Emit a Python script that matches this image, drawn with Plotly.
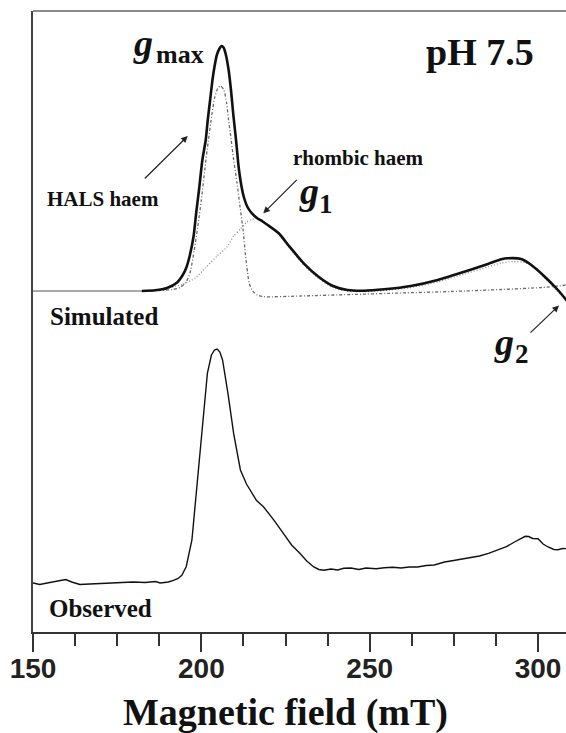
import plotly.graph_objects as go

# ---------------- data (field in mT, intensity in arbitrary units) ----------------
sim_field = [182.3, 186.3, 189.8, 192.8, 194.3, 195.5, 196.6, 197.7, 198.5, 199.3, 200.3, 201.3,
             201.9, 202.6, 203.3, 203.9, 204.6, 205.4, 206.0, 206.6, 207.3, 208.1, 208.8, 209.5,
             210.3, 211.1, 211.9, 212.7, 213.7, 214.8, 215.8, 216.7, 218.2, 219.7, 223.0, 226.2,
             230.4, 234.8, 239.1, 243.4, 248.3, 254.3, 262.2, 270.2, 278.1, 285.1, 289.1, 291.0,
             295.0, 298.0, 302.0, 305.9, 308.8]
sim_total = [341, 341.7, 344, 349.5, 356, 364, 377, 396, 420, 442, 472, 492,
             512, 532, 552, 565.3, 577, 583.5, 586, 584.5, 577, 562, 542, 517,
             492, 464, 446, 434, 425, 419.5, 416, 413.5, 410.5, 407, 398.7, 385.3,
             368.7, 355.3, 346, 342, 341.3, 342.7, 346, 352, 360.3, 368, 372.7, 373.7,
             373, 367, 355.3, 342, 330.3]

hals_field = [182.4, 187.8, 191.4, 193.7, 195.5, 196.7, 197.9, 199.0, 200.0, 201.0, 202.1, 203.1,
              204.0, 204.9, 205.7, 206.7, 207.5, 208.1, 208.6, 209.6, 210.6, 211.5, 212.4, 213.1,
              213.7, 214.2, 215.2, 216.6, 218.6, 229.5, 244.4, 259.3, 274.2, 289.2, 301.1, 308.8]
hals_int = [341, 341.5, 342.5, 344.5, 350, 360, 382, 407, 432, 462, 492, 517,
            535, 544, 546, 542, 529, 512, 499, 472, 449, 425, 402, 377,
            360, 349, 341, 337, 335.3, 336, 337.5, 339, 340.5, 342.5, 344.5, 347]

rhomb_field = [188.7, 194.3, 198.2, 201.2, 204.7, 207.7, 209.6, 211.6, 213.4, 214.9, 216.1, 217.3,
               218.5, 219.7, 223.0, 226.2, 230.4, 234.9, 239.1, 243.4, 248.3, 254.3, 262.3, 270.1,
               278.1, 285.0, 289.1, 292.7, 296.0, 299.0, 302.0, 304.7, 307.0, 308.8]
rhomb_int = [343, 347.5, 354, 364, 376, 385.3, 396, 403, 409.5, 412.5, 413.7, 413.3,
             410.5, 407.5, 397.5, 384, 367, 353.5, 344.5, 341, 340.3, 341.5, 344.5, 350,
             358, 365, 369, 370.5, 369.5, 364.5, 354, 344.5, 336, 331]

base_field = [150.0, 182.3]
base_int = [341, 341]

obs_field = [150.0, 152.0, 155.0, 158.0, 159.7, 161.5, 163.9, 166.9, 169.9, 172.9, 175.8, 179.7,
             183.3, 186.3, 187.8, 190.2, 191.7, 193.1, 194.2, 195.5, 197.2, 198.7, 200.3, 201.8,
             203.0, 203.9, 204.7, 205.5, 206.3, 207.9, 209.6, 211.6, 213.4, 214.6, 216.4, 218.5,
             221.6, 224.4, 226.8, 229.4, 231.3, 233.4, 234.9, 236.4, 238.5, 240.5, 242.3, 244.4,
             246.8, 248.9, 251.9, 254.3, 256.9, 259.3, 261.7, 264.2, 266.8, 269.2, 272.2, 274.5,
             277.2, 280.1, 282.6, 285.3, 288.0, 290.6, 293.0, 294.8, 296.2, 297.2, 298.4, 300.0,
             301.5, 303.0, 304.7, 305.9, 307.3, 308.8]
obs_int = [49, 47.5, 49.5, 51, 52.5, 50, 47.5, 48, 48.5, 49, 49.5, 50,
           49.5, 50.5, 49, 50, 51.7, 53.5, 56.7, 65.3, 92, 147, 205, 259,
           277, 282, 283, 280, 272, 238.7, 198.3, 162, 148, 141, 131.5, 125,
           111.7, 98.3, 87, 78.3, 71, 65, 62.5, 61.7, 63, 62, 63.7, 64,
           62.5, 64, 63.2, 64.3, 64.7, 64, 65, 65, 66.5, 67, 70, 71.3,
           73, 74.3, 76, 78.7, 81.7, 85.3, 90, 93.5, 95.7, 95.5, 93.5, 93.3,
           88, 85, 82.5, 82.3, 83.5, 83.3]

x_ticks = [150, 200, 250, 300]
x_tick_labels = ["150", "200", "250", "300"]

# ---------------- layout geometry ----------------
W, H = 566, 733
ML, MR, MT, MB = 33, 0, 11, 101
PW, PH = W - ML - MR, H - MT - MB
X0, X1 = 150, 308.3
Y0, Y1 = 0, 621


def pp(px, py):
    """pixel -> paper coordinates"""
    return (px - ML) / PW, (H - MB - py) / PH


SERIF = "Liberation Serif"
SANS = "Liberation Sans"

fig = go.Figure()
fig.add_trace(go.Scatter(x=base_field, y=base_int, mode="lines",
                         line=dict(color="#555", width=1.2), hoverinfo="skip"))
fig.add_trace(go.Scatter(x=rhomb_field, y=rhomb_int, mode="lines",
                         line=dict(color="#8a8a8a", width=1.3, dash="1px,2px", shape="spline", smoothing=0.6)))
fig.add_trace(go.Scatter(x=hals_field, y=hals_int, mode="lines",
                         line=dict(color="#6a6a6a", width=1.3, dash="3px,2px,1px,2px", shape="spline", smoothing=0.6)))
fig.add_trace(go.Scatter(x=sim_field, y=sim_total, mode="lines",
                         line=dict(color="#111", width=2.6, shape="spline", smoothing=0.6)))
fig.add_trace(go.Scatter(x=obs_field, y=obs_int, mode="lines",
                         line=dict(color="#111", width=1.4)))

ann = []


def text(s, px, py, size, italic=False, bold=True, family=SERIF, xanchor="center"):
    x, y = pp(px, py)
    ann.append(dict(text=s, x=x, y=y, xref="paper", yref="paper", showarrow=False,
                    xanchor=xanchor, yanchor="middle",
                    font=dict(family=family, size=size, color="#111",
                              weight="bold" if bold else "normal",
                              style="italic" if italic else "normal")))


def arrow(hx, hy, tx, ty):
    x, y = pp(hx, hy)
    ann.append(dict(text="", x=x, y=y, xref="paper", yref="paper", showarrow=True,
                    ax=tx - hx, ay=ty - hy, arrowhead=2, arrowsize=1.1, arrowwidth=1.2,
                    arrowcolor="#222"))


# labels: (text, centre x px, baseline px, size)
text("pH 7.5", 479.7, 65 - 0.34 * 38, 38)
text("HALS haem", 102.7, 206.5 - 0.34 * 21, 21)
text("rhombic haem", 358.3, 165 - 0.34 * 21, 21)
text("Simulated", 104, 325 - 0.34 * 25, 25)
text("Observed", 100, 617 - 0.34 * 25, 25)
# g_max
text("g", 142.5, 55.8 - 0.34 * 38, 38, italic=True)
text("max", 179.5, 63.3 - 0.34 * 26, 26)
# g_1
text("g", 309, 204.4 - 0.34 * 38, 38, italic=True)
text("1", 326, 213.3 - 0.34 * 27, 27)
# g_2
text("g", 503.8, 354.7 - 0.34 * 38, 38, italic=True)
text("2", 522, 363.3 - 0.34 * 27, 27)
# axis title
text("Magnetic field (mT)", 285, 725 - 0.34 * 38, 38)

arrow(187.7, 136, 143.3, 180)
arrow(263.3, 213.3, 298.3, 178.3)
arrow(559, 305.5, 529, 334)

fig.update_layout(
    width=W, height=H,
    margin=dict(l=ML, r=MR, t=MT, b=MB, pad=0),
    paper_bgcolor="white", plot_bgcolor="white",
    showlegend=False,
    annotations=ann,
    shapes=[dict(type="line", xref="paper", yref="paper", x0=0, x1=1, y0=1, y1=1,
                 line=dict(color="#666", width=1.5))],
    xaxis=dict(range=[X0, X1], showgrid=False, zeroline=False,
               showline=True, linecolor="#333", linewidth=2,
               ticks="outside", ticklen=18, tickwidth=2, tickcolor="#333",
               tickvals=x_ticks, ticktext=x_tick_labels, ticklabelstandoff=-8,
               tickfont=dict(family=SANS, size=28, color="#222", weight="bold"),
               minor=dict(dtick=12.5, tick0=150, ticks="outside", ticklen=12, tickwidth=2,
                          tickcolor="#333", showgrid=False)),
    yaxis=dict(range=[Y0, Y1], showgrid=False, zeroline=False,
               showline=True, linecolor="#444", linewidth=2,
               showticklabels=False, ticks=""),
)

fig.write_html("out.html")
